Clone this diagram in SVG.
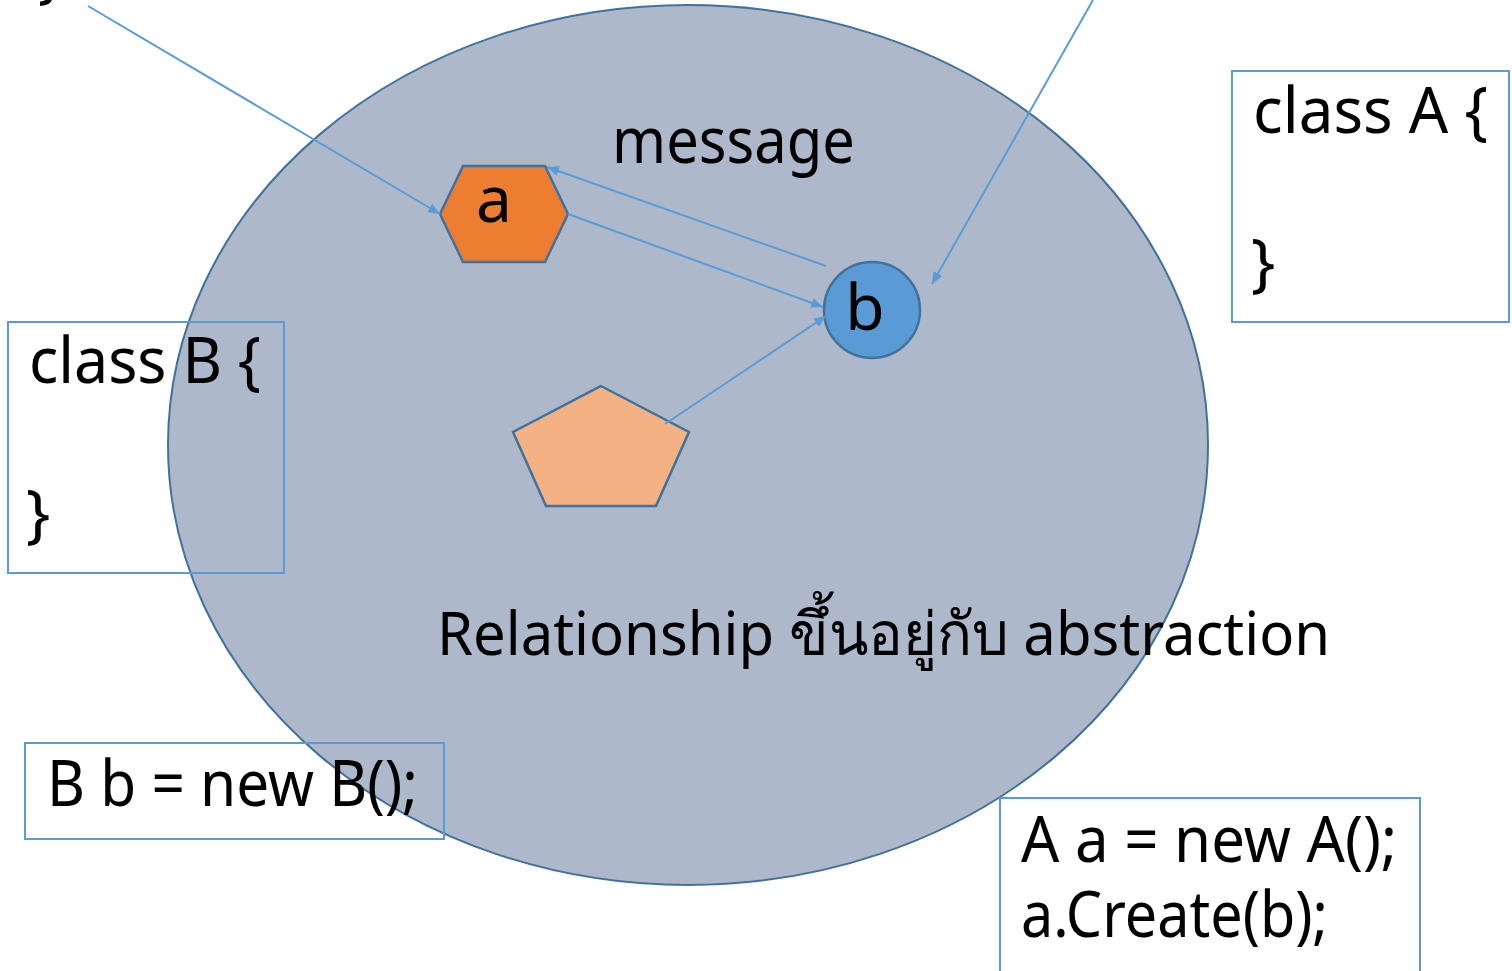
<svg xmlns="http://www.w3.org/2000/svg" width="1512" height="971" viewBox="0 0 1512 971">
  <style>
    .lbl { font-family: "Noto Sans", "Open Sans", "DejaVu Sans", sans-serif; fill: #000; }
    .box { fill: none; stroke: #5B9BD5; stroke-width: 2; }
    .conn { fill: none; stroke: #5B9BD5; stroke-width: 2; }
    .shape { stroke: #41719C; stroke-width: 2.5; }
  </style>
  <defs>
    <marker id="arrow" viewBox="0 0 12 10" refX="12" refY="5" markerWidth="12" markerHeight="10" markerUnits="userSpaceOnUse" orient="auto">
      <path d="M0,0 L12,5 L0,10 Z" fill="#5B9BD5"/>
    </marker>
  </defs>
  <rect width="1512" height="971" fill="#fff"/>

  <!-- background region -->
  <g id="scope">
    <ellipse cx="688" cy="445" rx="520" ry="440" fill="#ADB9CA" stroke="#41719C" stroke-width="2"/>
    <text class="lbl" x="437" y="655" font-size="60" textLength="893" lengthAdjust="spacingAndGlyphs">Relationship ขึ้นอยู่กับ abstraction</text>
  </g>

  <!-- stray closing brace above the view -->
  <text class="lbl" x="38" y="-4" font-size="64">}</text>

  <g id="classA">
    <rect class="box" x="1232" y="71" width="277" height="251"/>
    <text class="lbl" x="1253" y="133" font-size="64" textLength="235" lengthAdjust="spacingAndGlyphs">class A {</text>
    <text class="lbl" x="1251" y="285" font-size="64">}</text>
  </g>

  <g id="classB">
    <rect class="box" x="8" y="322" width="276" height="251"/>
    <text class="lbl" x="29" y="383" font-size="64" textLength="232" lengthAdjust="spacingAndGlyphs">class B {</text>
    <text class="lbl" x="26" y="536" font-size="64">}</text>
  </g>

  <g id="newB">
    <rect class="box" x="25" y="743" width="419" height="96"/>
    <text class="lbl" x="47" y="806" font-size="64" textLength="371" lengthAdjust="spacingAndGlyphs">B b = new B();</text>
  </g>

  <g id="newA">
    <rect class="box" x="1000" y="798" width="420" height="190"/>
    <text class="lbl" x="1021" y="862" font-size="64" textLength="376" lengthAdjust="spacingAndGlyphs">A a = new A();</text>
    <text class="lbl" x="1021" y="937" font-size="64" textLength="307" lengthAdjust="spacingAndGlyphs">a.Create(b);</text>
  </g>

  <g id="message">
    <text class="lbl" x="612" y="163" font-size="64" textLength="243" lengthAdjust="spacingAndGlyphs">message</text>
  </g>

  <g id="nodeA">
    <polygon class="shape" points="440,214 463,166 545,166 568,214 545,262 463,262" fill="#ED7D31"/>
    <text class="lbl" x="494" y="222" font-size="64" text-anchor="middle">a</text>
  </g>

  <g id="nodeB">
    <circle class="shape" cx="872" cy="310" r="48" fill="#5B9BD5"/>
    <text class="lbl" x="865" y="330" font-size="64" text-anchor="middle">b</text>
  </g>

  <g id="nodeC">
    <polygon class="shape" points="601,386 689,432 656,506 546,506 513,432" fill="#F4B183"/>
  </g>

  <g id="connectors">
    <line class="conn" x1="88" y1="6" x2="440" y2="214" marker-end="url(#arrow)"/>
    <line class="conn" x1="1093" y1="0" x2="932" y2="284" marker-end="url(#arrow)"/>
    <line class="conn" x1="826" y1="266" x2="547" y2="167" marker-end="url(#arrow)"/>
    <line class="conn" x1="568" y1="214" x2="823" y2="307" marker-end="url(#arrow)"/>
    <line class="conn" x1="665" y1="424" x2="826" y2="316" marker-end="url(#arrow)"/>
  </g>
</svg>
